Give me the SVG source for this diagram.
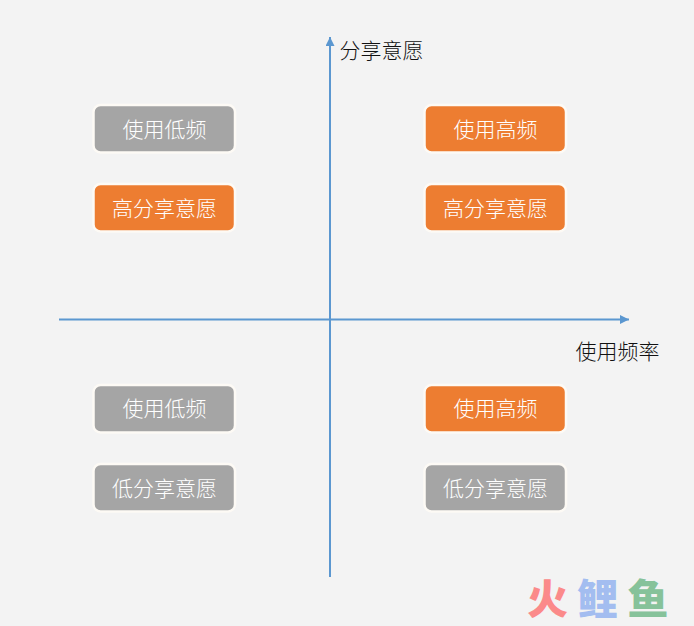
<svg xmlns="http://www.w3.org/2000/svg" width="694" height="626" viewBox="0 0 694 626">
<style>
text{font-family:"Noto Sans CJK SC","Noto Sans",sans-serif;text-anchor:middle}
.n rect{stroke:#fdfaf5;stroke-width:2.500}
.g rect{fill:#a5a5a5}
.o rect{fill:#ed7d31}
.n text{font-size:21px;fill:#fff;font-weight:300}
.l{font-size:21px;fill:#111;font-weight:300}
.ax{stroke:#5b97d0;stroke-width:2;fill:none}
.w{font-size:41px;font-weight:900}
</style>
<defs>
<marker id="a" markerUnits="userSpaceOnUse" markerWidth="10" markerHeight="10" refX="9" refY="4.500" orient="auto"><path d="M0 0L9 4.500L0 9z" fill="#5b97d0"/></marker>
</defs>
<rect width="694" height="626" fill="#f3f3f3"/>
<g id="connectors">
<path class="ax" d="M59 319.500H629" marker-end="url(#a)"/>
<path class="ax" d="M330 577V37" marker-end="url(#a)"/>
</g>
<g id="n1" class="n g"><rect x="93.500" y="105" width="141.500" height="47.500" rx="7"/><text x="164.500" y="136.500">使用低频</text></g>
<g id="n2" class="n o"><rect x="93.500" y="184" width="141.500" height="47.500" rx="7"/><text x="164.500" y="215.500">高分享意愿</text></g>
<g id="n3" class="n o"><rect x="424.500" y="105" width="141.500" height="47.500" rx="7"/><text x="495.500" y="136.500">使用高频</text></g>
<g id="n4" class="n o"><rect x="424.500" y="184" width="141.500" height="47.500" rx="7"/><text x="495.500" y="215.500">高分享意愿</text></g>
<g id="n5" class="n g"><rect x="93.500" y="385" width="141.500" height="47.500" rx="7"/><text x="164.500" y="416">使用低频</text></g>
<g id="n6" class="n g"><rect x="93.500" y="464" width="141.500" height="47.500" rx="7"/><text x="164.500" y="495.500">低分享意愿</text></g>
<g id="n7" class="n o"><rect x="424.500" y="385" width="141.500" height="47.500" rx="7"/><text x="495.500" y="416">使用高频</text></g>
<g id="n8" class="n g"><rect x="424.500" y="464" width="141.500" height="47.500" rx="7"/><text x="495.500" y="495.500">低分享意愿</text></g>
<text class="l" x="381.500" y="58">分享意愿</text>
<text class="l" x="617.500" y="359">使用频率</text>
<text class="w" x="547.500" y="614" fill="#fb8a8a">火</text>
<text class="w" x="597.500" y="614" fill="#a3bdf0">鲤</text>
<text class="w" x="648" y="614" fill="#86c29a">鱼</text>
</svg>
